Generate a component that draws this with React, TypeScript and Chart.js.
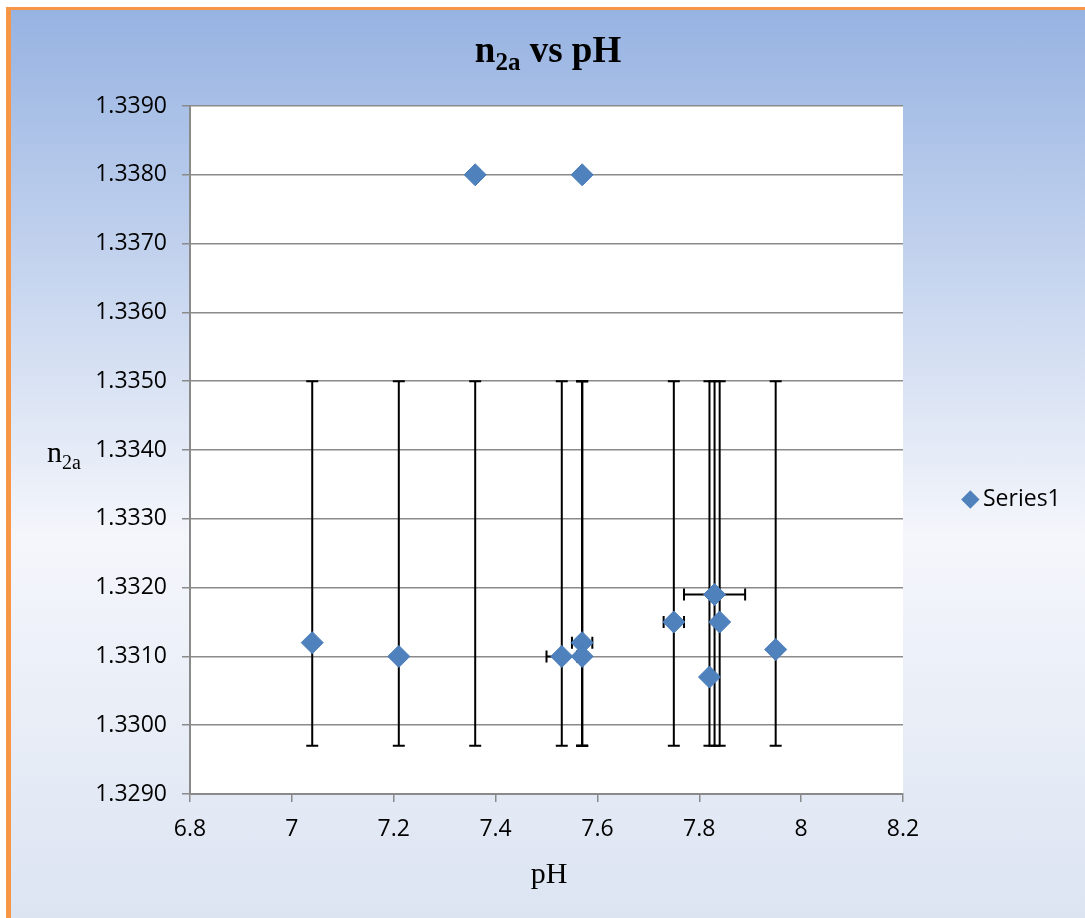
import React, { useEffect, useRef } from "react";
import { Chart, registerables } from "chart.js";

Chart.register(...registerables);

// pH values (x)
const phValues = [7.04, 7.21, 7.36, 7.53, 7.57, 7.57, 7.57, 7.75, 7.82, 7.83, 7.84, 7.95];
// n2a values (y)
const n2aValues = [1.3312, 1.331, 1.338, 1.331, 1.3312, 1.331, 1.338, 1.3315, 1.3307, 1.3319, 1.3315, 1.3311];
// custom vertical error bar ends
const yErrLow = [1.3297, 1.3297, 1.3297, 1.3297, 1.3297, 1.3297, 1.3297, 1.3297, 1.3297, 1.3297, 1.3297, 1.3297];
const yErrHigh = [1.335, 1.335, 1.335, 1.335, 1.335, 1.335, 1.335, 1.335, 1.335, 1.335, 1.335, 1.335];
// horizontal error (± pH)
const xErr = [0, 0, 0, 0.03, 0.02, 0, 0, 0.02, 0, 0.06, 0, 0];

const seriesName = "Series1";
const xMin = 6.8;
const xMax = 8.2;
const xStep = 0.2;
const yMin = 1.329;
const yMax = 1.339;
const yStep = 0.001;

const errorBarPlugin = {
  id: "errorBars",
  beforeDatasetsDraw(chart: any) {
    const { ctx, scales } = chart;
    const xs = scales.x;
    const ys = scales.y;
    const cap = 6;
    ctx.save();
    ctx.strokeStyle = "#000000";
    ctx.lineWidth = 2;
    for (let i = 0; i < phValues.length; i++) {
      const px = xs.getPixelForValue(phValues[i]);
      const py = ys.getPixelForValue(n2aValues[i]);
      const y1 = ys.getPixelForValue(yErrLow[i]);
      const y2 = ys.getPixelForValue(yErrHigh[i]);
      ctx.beginPath();
      ctx.moveTo(px, y1);
      ctx.lineTo(px, y2);
      ctx.moveTo(px - cap, y1);
      ctx.lineTo(px + cap, y1);
      ctx.moveTo(px - cap, y2);
      ctx.lineTo(px + cap, y2);
      ctx.stroke();
      if (xErr[i] > 0) {
        const xa = xs.getPixelForValue(phValues[i] - xErr[i]);
        const xb = xs.getPixelForValue(phValues[i] + xErr[i]);
        ctx.beginPath();
        ctx.moveTo(xa, py);
        ctx.lineTo(xb, py);
        ctx.moveTo(xa, py - cap);
        ctx.lineTo(xa, py + cap);
        ctx.moveTo(xb, py - cap);
        ctx.lineTo(xb, py + cap);
        ctx.stroke();
      }
    }
    ctx.restore();
  },
};

const plotBgPlugin = {
  id: "plotBg",
  beforeDraw(chart: any) {
    const { ctx, chartArea } = chart;
    ctx.save();
    ctx.fillStyle = "#ffffff";
    ctx.fillRect(chartArea.left, chartArea.top, chartArea.right - chartArea.left, chartArea.bottom - chartArea.top);
    ctx.restore();
  },
};

export default function App() {
  const canvasRef = useRef<HTMLCanvasElement | null>(null);

  useEffect(() => {
    if (!canvasRef.current) return;
    const data = phValues.map((x, i) => ({ x, y: n2aValues[i] }));
    const tickFont = { family: "'Open Sans', sans-serif", size: 23 };
    const gridColor = "#8a8a8a";
    const chart = new Chart(canvasRef.current, {
      type: "scatter",
      data: {
        datasets: [
          {
            label: seriesName,
            data,
            pointStyle: "rectRot",
            pointRadius: 11,
            pointHoverRadius: 11,
            backgroundColor: "#4F81BD",
            borderColor: "#4A7EBB",
            borderWidth: 1,
          },
        ],
      },
      options: {
        animation: false,
        responsive: false,
        events: [],
        layout: { padding: { left: 0, right: 182, top: 106, bottom: 0 } },
        plugins: {
          legend: { display: false },
          title: { display: false },
          tooltip: { enabled: false },
        },
        scales: {
          x: {
            type: "linear",
            min: xMin,
            max: xMax,
            afterFit: (s: any) => {
              s.height = 124;
            },
            ticks: {
              stepSize: xStep,
              color: "#000000",
              font: tickFont,
              padding: 14,
              maxRotation: 0,
              callback: (v: any) => String(Math.round(Number(v) * 10) / 10),
            },
            grid: {
              drawOnChartArea: false,
              drawTicks: true,
              tickLength: 8,
              color: gridColor,
              lineWidth: 1.5,
            },
            border: { display: true, color: gridColor, width: 2 },
          },
          y: {
            type: "linear",
            min: yMin,
            max: yMax,
            afterFit: (s: any) => {
              s.width = 190;
            },
            ticks: {
              stepSize: yStep,
              color: "#000000",
              font: tickFont,
              padding: 15,
              callback: (v: any) => Number(v).toFixed(4),
            },
            grid: {
              drawOnChartArea: true,
              drawTicks: true,
              tickLength: 8,
              color: gridColor,
              lineWidth: 1.5,
            },
            border: { display: true, color: gridColor, width: 2 },
          },
        },
      },
      plugins: [plotBgPlugin, errorBarPlugin],
    });
    return () => chart.destroy();
  }, []);

  const serif = "'Liberation Serif', 'Times New Roman', serif";

  return (
    <div style={{ position: "absolute", left: 0, top: 0, width: 1085, height: 918, background: "#ffffff", overflow: "hidden" }}>
      <div
        style={{
          position: "absolute",
          left: 6,
          top: 7,
          width: 1079,
          height: 911,
          boxSizing: "border-box",
          borderLeft: "5px solid #F79646",
          borderTop: "3px solid #F79646",
          background: "linear-gradient(to bottom, #97B3E2 0%, #F4F6FB 58%, #DCE4F2 100%)",
        }}
      />
      <canvas ref={canvasRef} width={1085} height={918} style={{ position: "absolute", left: 0, top: 0, width: 1085, height: 918 }} />
      <div
        style={{
          position: "absolute",
          left: 548,
          top: 32,
          transform: "translateX(-50%)",
          whiteSpace: "nowrap",
          fontFamily: serif,
          fontWeight: "bold",
          fontSize: 37,
          lineHeight: "36px",
          color: "#000",
        }}
      >
        n<span style={{ fontSize: 25, position: "relative", top: 8 }}>2a</span> vs pH
      </div>
      <div
        style={{
          position: "absolute",
          left: 47,
          top: 437,
          whiteSpace: "nowrap",
          fontFamily: serif,
          fontSize: 30,
          lineHeight: "30px",
          color: "#000",
        }}
      >
        n<span style={{ fontSize: 20, position: "relative", top: 7 }}>2a</span>
      </div>
      <div
        style={{
          position: "absolute",
          left: 549,
          top: 858,
          transform: "translateX(-50%)",
          whiteSpace: "nowrap",
          fontFamily: serif,
          fontSize: 30,
          lineHeight: "29px",
          color: "#000",
        }}
      >
        pH
      </div>
      <div
        style={{
          position: "absolute",
          left: 963.6,
          top: 492.6,
          width: 12.7,
          height: 12.7,
          background: "#4F81BD",
          transform: "rotate(45deg)",
        }}
      />
      <div
        style={{
          position: "absolute",
          left: 983,
          top: 486,
          whiteSpace: "nowrap",
          fontFamily: "'Open Sans', sans-serif",
          fontSize: 23,
          lineHeight: "23px",
          color: "#000",
        }}
      >
        {seriesName}
      </div>
    </div>
  );
}
